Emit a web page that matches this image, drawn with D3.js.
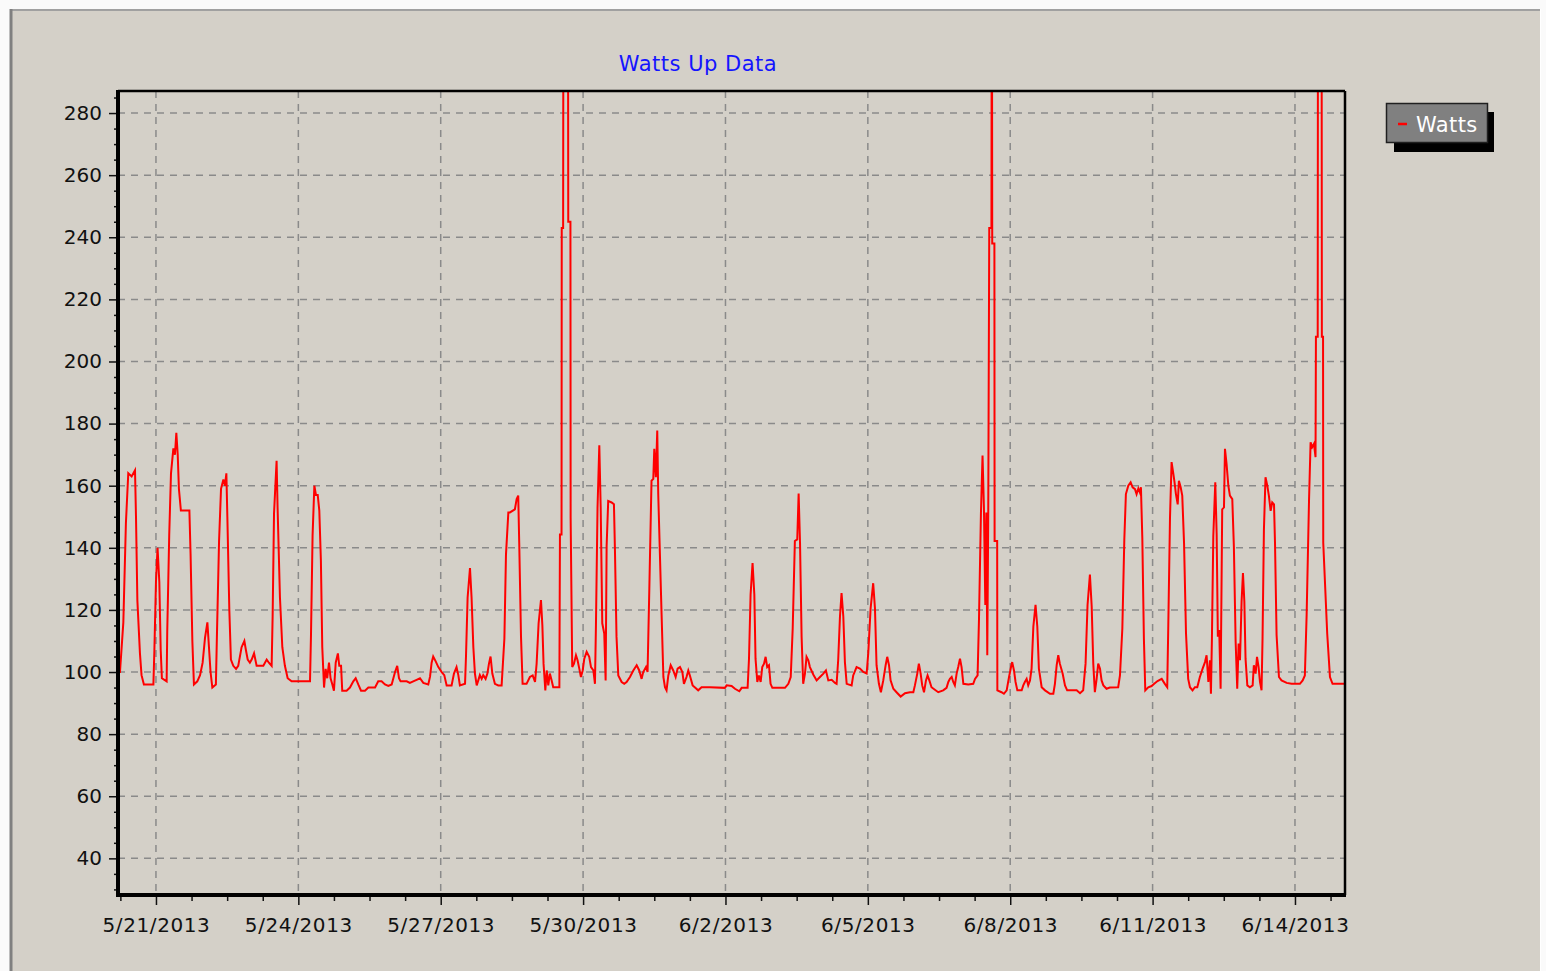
<!DOCTYPE html>
<html>
<head>
<meta charset="utf-8">
<script src="https://cdn.jsdelivr.net/npm/d3@7"></script>
<style>
  html, body { margin: 0; padding: 0; background: #fff; }
  svg { display: block; }
  text { font-family: "DejaVu Sans", sans-serif; }
</style>
</head>
<body>
<svg width="1546" height="971"></svg>
<script>
"use strict";
// hours after 5/21/2013 00:00 (spikes above the frame are clipped)
const hours = [
  -19.2, -18.2, -16.5, -15.2, -14.0, -12.3, -10.6, -10.1, -9.4, -8.1, -7.3, -6.1, -1.3, -0.8, 0.0, 0.8, 1.7, 2.4, 3.0,
  5.4, 5.7, 6.7, 7.6, 8.8, 9.6, 10.3, 11.0, 11.6, 12.6, 16.9, 17.5, 18.4, 19.2, 20.9, 22.3, 23.6, 24.8, 26.0, 26.6,
  27.6, 28.5, 30.3, 30.8, 31.9, 32.9, 34.1, 34.9, 35.6, 36.1, 37.1, 37.9, 39.1, 40.5, 41.6, 43.3, 44.7, 45.5, 46.4,
  47.5, 48.4, 49.6, 50.9, 52.1, 54.3, 56.0, 57.1, 58.5, 59.0, 59.7, 61.0, 61.5, 62.7, 63.9, 65.2, 66.6, 68.6, 71.1,
  77.9, 78.4, 79.2, 80.1, 80.9, 81.8, 82.6, 83.4, 84.1, 85.0, 85.8, 86.6, 87.5, 88.3, 89.2, 90.0, 90.9, 92.0, 92.7,
  93.6, 94.2, 96.4, 98.1, 99.8, 101.0, 102.3, 103.7, 105.7, 107.4, 110.8, 112.4, 114.1, 115.8, 117.5, 119.2, 120.9,
  122.0, 122.9, 123.7, 126.8, 128.4, 130.1, 131.8, 133.5, 135.2, 137.7, 138.6, 139.4, 140.2, 141.4, 142.8, 144.5,
  145.8, 147.0, 149.5, 150.7, 152.0, 152.9, 153.7, 156.3, 156.8, 157.6, 158.8, 159.6, 160.5, 161.3, 162.2, 163.0,
  163.8, 164.7, 165.5, 166.7, 167.6, 168.4, 169.2, 170.1, 171.4, 173.1, 174.8, 176.2, 177.0, 178.2, 179.0, 181.5,
  182.4, 183.2, 183.7, 184.6, 185.4, 187.4, 189.1, 190.5, 191.7, 192.5, 193.5, 194.7, 195.4, 196.0, 196.9, 197.6,
  198.4, 199.2, 200.1, 200.9, 204.0, 204.3, 205.1, 205.2, 205.9, 206.0, 208.4, 208.5, 209.6, 209.7, 210.5, 211.4,
  212.4, 213.2, 214.1, 214.9, 215.8, 216.6, 217.8, 219.1, 220.0, 221.2, 222.0, 222.5, 223.3, 224.2, 224.9, 225.7,
  226.7, 227.4, 227.9, 228.7, 230.4, 231.6, 232.1, 232.9, 233.8, 235.5, 236.8, 238.0, 239.7, 241.4, 243.1, 244.4,
  245.6, 246.4, 247.8, 248.6, 249.5, 250.6, 251.5, 252.0, 252.8, 253.5, 254.0, 255.7, 256.6, 257.4, 258.2, 259.1,
  260.3, 261.6, 262.8, 263.8, 265.0, 266.2, 267.0, 268.3, 269.2, 270.0, 271.4, 272.6, 274.2, 275.9, 280.1, 287.7,
  288.6, 291.1, 292.8, 295.0, 296.2, 299.2, 299.9, 300.7, 301.7, 302.6, 303.2, 304.1, 304.9, 305.8, 306.6, 307.5,
  308.3, 309.1, 310.0, 310.8, 311.7, 318.1, 319.8, 321.0, 322.0, 323.1, 324.3, 325.0, 325.7, 326.5, 327.3, 328.2,
  329.0, 329.9, 330.7, 332.4, 334.1, 335.8, 337.5, 338.8, 340.0, 341.7, 343.4, 344.2, 345.0, 345.9, 346.7, 347.6,
  348.4, 349.3, 351.8, 352.6, 354.3, 356.0, 357.7, 359.4, 360.2, 361.4, 362.7, 363.6, 364.4, 365.6, 366.6, 367.8,
  369.0, 369.8, 370.7, 371.5, 372.9, 374.5, 376.6, 378.8, 381.3, 383.0, 383.8, 385.0, 385.8, 386.7, 387.5, 388.4,
  389.4, 390.2, 391.1, 392.2, 393.9, 395.6, 398.1, 399.8, 400.7, 401.5, 402.4, 403.2, 404.0, 404.9, 405.7, 406.6,
  407.4, 408.3, 410.8, 413.3, 414.2, 415.5, 416.2, 417.2, 418.0, 418.7, 419.4, 419.9, 420.4, 420.9, 421.4, 422.5,
  422.6, 422.8, 422.9, 424.0, 424.1, 425.4, 425.5, 427.6, 428.8, 430.2, 431.4, 432.4, 433.0, 433.9, 434.7, 435.6,
  437.8, 438.6, 439.4, 440.3, 441.1, 442.0, 442.8, 443.7, 444.8, 445.7, 446.5, 447.9, 449.6, 452.1, 453.8, 454.6,
  455.5, 456.3, 457.1, 458.5, 459.7, 460.8, 465.6, 467.3, 468.9, 470.1, 471.1, 472.3, 473.2, 474.0, 474.8, 475.7,
  476.5, 477.4, 478.2, 479.1, 480.7, 482.4, 486.6, 487.5, 488.7, 489.7, 490.5, 491.7, 492.9, 493.9, 495.1, 495.9,
  496.8, 497.6, 498.1, 498.8, 499.6, 500.3, 501.8, 503.5, 504.8, 506.5, 508.6, 510.2, 511.4, 511.9, 512.8, 513.6,
  514.5, 515.1, 515.8, 516.7, 517.3, 518.2, 519.0, 519.9, 520.9, 522.0, 522.9, 524.2, 525.4, 526.6, 527.9, 529.3,
  530.5, 531.3, 532.2, 533.0, 533.5, 534.0, 534.7, 535.7, 536.4, 537.0, 537.7, 538.4, 539.2, 540.1, 540.6, 541.4,
  542.3, 543.1, 544.3, 545.1, 546.0, 546.8, 547.5, 548.2, 549.0, 549.7, 550.4, 551.0, 551.9, 553.2, 554.6, 555.2,
  556.1, 556.8, 557.6, 558.3, 559.1, 559.6, 560.3, 561.1, 562.0, 562.8, 563.7, 564.5, 565.4, 565.9, 566.7, 567.9,
  569.2, 571.8, 574.3, 578.5, 579.9, 581.0, 581.9, 583.1, 583.9, 584.7, 585.6, 586.4, 586.6, 587.5, 587.6, 589.5,
  589.6, 590.2, 590.3, 592.3, 593.7, 595.0, 601.3
];
const watts = [
  100, 100, 116, 148, 164, 163, 165, 150, 123, 106, 99, 96, 96, 107, 129, 140, 129, 107, 98,
  97, 113, 144, 164, 172, 170, 177, 170, 159, 152, 152, 138, 110, 96, 97, 99, 103, 111, 116, 110,
  100, 95, 96, 111, 142, 159, 162, 160, 164, 150, 120, 104, 102, 101, 102, 108, 110, 107, 104,
  103, 104, 106, 102, 102, 102, 104, 103, 102, 118, 151, 168, 153, 124, 108, 102, 98, 97, 97,
  97, 112, 144, 160, 157, 157, 152, 136, 108, 95, 101, 98, 103, 98, 96, 94, 103, 106, 102,
  102, 94, 94, 95, 97, 98, 96, 94, 94, 95, 95, 97, 97, 96, 95.5, 96, 100,
  102, 98, 97, 97, 96.5, 97, 97.5, 98, 96.5, 96, 98.5, 103, 105, 103.5, 101.6, 100,
  99, 95.7, 95.7, 99.5, 101.6, 99, 95.7, 96.2, 105.4, 124, 133.5, 124, 108, 99.5, 95.7, 97.3,
  99, 97.8, 99, 97.8, 99.5, 102.7, 105, 99.5, 96.2, 95.7, 95.7, 110.8, 137.8, 151.4, 151.4, 152.4,
  155.7, 156.8, 141.6, 111.4, 96.2, 96.2, 98.4, 98.9, 96.8, 102.7, 115.7, 123.2, 115.1, 102.7, 94.1, 100.5,
  95.7, 99.5, 97.3, 95.1, 95.1, 144.3, 144.3, 243, 243, 300, 300, 245, 245, 149.7, 101.6, 102.7,
  105.4, 103.8, 101, 98.4, 100.5, 104.3, 106.5, 104.9, 101.6, 100.5, 96.2, 115.1, 153, 173, 153, 115.7,
  112.4, 97.3, 140.5, 155.1, 154.6, 154, 139.5, 111.4, 98.9, 96.8, 96.2, 96.8, 98.4, 100.5, 102.2, 100.5,
  97.8, 100, 101.6, 100, 127, 161.6, 162.2, 171.9, 162.7, 177.8, 157.3, 118.4, 98.4, 95.1, 94.1, 98.9,
  102.2, 100.5, 98.4, 101.1, 101.6, 100, 96.2, 98.4, 100.5, 98.9, 95.7, 95, 94.1, 95.1, 95.1, 94.9,
  95.7, 95.5, 94.6, 93.8, 94.9, 94.9, 104.3, 124.9, 135.1, 124.9, 104.3, 96.8, 98.9, 96.8, 101.6, 102.7,
  104.9, 101.6, 102.2, 96.2, 94.9, 94.9, 96.2, 98.4, 114, 142.2, 142.7, 157.5, 141.6, 111.4, 96.2, 99.5,
  104.9, 103.8, 101.6, 99.2, 97.3, 98.4, 99.5, 100.5, 97.3, 97.5, 96.5, 96.2, 103.8, 117.8, 125.4, 117.8,
  103.2, 96.2, 95.7, 98.9, 101.6, 101.1, 100, 99.5, 106, 120.5, 128.6, 120.5, 102.2, 96.2, 93.5, 97.3,
  102.2, 104.9, 102.2, 97.3, 94.6, 93.5, 92.1, 93.2, 93.5, 93.5, 95.7, 99.5, 102.7, 99.5, 95.7, 93.5,
  97.3, 98.9, 97.3, 95.1, 94.3, 93.5, 94.1, 94.9, 96.8, 97.8, 98.4, 96.8, 95.7, 99.5, 101.6, 104.3,
  101.6, 96.2, 96, 96.2, 97.8, 98.9, 116.8, 151.4, 169.7, 153, 121.6, 151.4, 105.4, 152.4, 243, 243,
  300, 300, 238, 238, 142.2, 142.2, 94.1, 93.5, 93, 94.1, 98.4, 101.6, 103.2, 100.5, 96.8, 94.1,
  94.1, 95.7, 96.8, 97.8, 95.7, 97.3, 101.1, 114.6, 121.6, 114.6, 101.1, 95.1, 94.1, 93, 93, 96.2,
  102.2, 105.4, 102.7, 99.5, 95.7, 94.1, 94.1, 93.2, 94.1, 102.7, 121.6, 131.4, 121.1, 102.7, 93.5, 97.8,
  102.7, 101.1, 97.3, 95.7, 94.6, 95.0, 95.1, 98.9, 114, 142.7, 157.3, 160, 161.1, 159.5, 158.9, 157.3,
  159.1, 157.8, 159.5, 143.2, 110.8, 94.1, 95.1, 95.5, 96.2, 97.1, 97.8, 96.2, 95.1, 113.5, 149.7, 167.6,
  163.8, 161.1, 157.3, 154, 161.6, 159.5, 156.8, 141.6, 112.4, 97.8, 95.1, 94.1, 95.1, 95.1, 98.4, 101.1,
  103.2, 105.4, 96.8, 103.8, 93, 110.8, 143.8, 161.1, 144.3, 111.4, 113.5, 94.6, 152.4, 153, 171.9, 167,
  160, 156.8, 155.7, 140.5, 109.7, 94.6, 109.2, 103.8, 122.7, 131.9, 122.7, 104.3, 95.7, 95.1, 95.7, 102.2,
  99.5, 104.9, 101.6, 96.8, 94.1, 110.8, 145.9, 162.7, 160, 156.8, 151.9, 154.6, 154, 141.6, 111.9, 98.4,
  97.3, 96.5, 96.2, 96.2, 97.3, 98.9, 118.4, 155.1, 174, 172.4, 173.5, 169.2, 208, 208, 300, 300,
  208, 208, 141.6, 112.4, 98.4, 96.2, 96.2
];
const xTickLabels = ["5/21/2013", "5/24/2013", "5/27/2013", "5/30/2013", "6/2/2013",
                     "6/5/2013", "6/8/2013", "6/11/2013", "6/14/2013"];
const yTickValues = [40, 60, 80, 100, 120, 140, 160, 180, 200, 220, 240, 260, 280];
const seriesName = "Watts";
const chartTitle = "Watts Up Data";

let svg = d3.select("svg"),
    width = +svg.attr("width"),
    height = +svg.attr("height");
const plot = { left: 118, top: 91, right: 1345, bottom: 895 };

let start = new Date(2013, 4, 21);
let toDate = h => new Date(start.getTime() + h * 3600e3);
let data = hours.map((h, i) => ({ date: toDate(h), value: watts[i] }));

let x = d3.scaleTime().domain([toDate(-19.2), toDate(601.3)]).range([plot.left, plot.right]);
let y = d3.scaleLinear().domain([28.2, 287.1]).range([plot.bottom, plot.top]);

// window background
svg.append("rect").attr("width", width).attr("height", height).attr("fill", "#fafafa");
svg.append("rect").attr("x", 10).attr("y", 9).attr("width", 1530).attr("height", height - 9).attr("fill", "#d4d0c8");
svg.append("line").attr("x1", 10).attr("x2", 1540).attr("y1", 10).attr("y2", 10).attr("stroke", "#a0a0a0").attr("stroke-width", 2);
svg.append("line").attr("x1", 11).attr("x2", 11).attr("y1", 9).attr("y2", height).attr("stroke", "#808080").attr("stroke-width", 3);
svg.append("line").attr("x1", 1540.5).attr("x2", 1540.5).attr("y1", 9).attr("y2", height).attr("stroke", "#ffffff").attr("stroke-width", 1);

// title
svg.append("text")
    .attr("x", 698).attr("y", 71)
    .attr("text-anchor", "middle")
    .attr("font-size", 21)
    .attr("letter-spacing", 0.5)
    .attr("fill", "#1414ff")
    .text(chartTitle);

let tickDates = xTickLabels.map(d3.timeParse("%m/%d/%Y"));

// grid
let grid = svg.append("g").attr("stroke", "#8a8a8a").attr("stroke-width", 1.5).attr("stroke-dasharray", "7,6");
grid.selectAll(".hg").data(yTickValues).enter().append("line")
    .attr("x1", plot.left).attr("x2", plot.right)
    .attr("y1", d => y(d)).attr("y2", d => y(d));
grid.selectAll(".vg").data(tickDates).enter().append("line")
    .attr("y1", plot.top).attr("y2", plot.bottom)
    .attr("x1", d => x(d)).attr("x2", d => x(d));

// axes
let xMinor = d3.range(-1, 34).filter(k => k % 4 !== 0).map(k => toDate(k * 18))
    .filter(d => d >= x.domain()[0] && d <= x.domain()[1]);
let yMinor = d3.range(30, 290, 5).filter(v => v % 20 !== 0);

let styleAxis = g => {
    g.select(".domain").remove();
    g.selectAll(".tick line").attr("stroke", "#111").attr("stroke-width", 1.5);
    g.selectAll("text").attr("font-size", 20).attr("fill", "#111").attr("font-family", "DejaVu Sans, sans-serif");
};

svg.append("g").attr("transform", "translate(0," + plot.bottom + ")")
    .call(d3.axisBottom(x).tickValues(xMinor).tickSize(6).tickFormat(""))
    .call(styleAxis);
svg.append("g").attr("transform", "translate(0," + plot.bottom + ")")
    .call(d3.axisBottom(x).tickValues(tickDates).tickSize(10).tickPadding(13).tickFormat((d, i) => xTickLabels[i]))
    .call(styleAxis)
    .call(g => g.selectAll("text").attr("letter-spacing", 0.6));
svg.append("g").attr("transform", "translate(" + plot.left + ",0)")
    .call(d3.axisLeft(y).tickValues(yMinor).tickSize(4).tickFormat(""))
    .call(styleAxis);
svg.append("g").attr("transform", "translate(" + plot.left + ",0)")
    .call(d3.axisLeft(y).tickValues(yTickValues).tickSize(9).tickPadding(7))
    .call(styleAxis);

// data line
svg.append("clipPath").attr("id", "plotClip")
    .append("rect")
    .attr("x", plot.left).attr("y", plot.top)
    .attr("width", plot.right - plot.left).attr("height", plot.bottom - plot.top);

let line = d3.line()
    .x(d => x(d.date))
    .y(d => y(d.value));

svg.append("path")
    .datum(data)
    .attr("clip-path", "url(#plotClip)")
    .attr("fill", "none")
    .attr("stroke", "#ff0000")
    .attr("stroke-width", 2)
    .attr("stroke-linejoin", "miter")
    .attr("d", line);

// frame
svg.append("line").attr("x1", plot.left).attr("x2", plot.right).attr("y1", plot.top).attr("y2", plot.top)
    .attr("stroke", "#000").attr("stroke-width", 2.5);
svg.append("line").attr("x1", plot.right).attr("x2", plot.right).attr("y1", plot.top).attr("y2", plot.bottom)
    .attr("stroke", "#000").attr("stroke-width", 2.5);
svg.append("line").attr("x1", plot.left).attr("x2", plot.left).attr("y1", plot.top - 1).attr("y2", plot.bottom + 2)
    .attr("stroke", "#000").attr("stroke-width", 4);
svg.append("line").attr("x1", plot.left).attr("x2", plot.right + 1).attr("y1", plot.bottom).attr("y2", plot.bottom)
    .attr("stroke", "#000").attr("stroke-width", 4);

// legend
let legend = svg.append("g");
legend.append("rect").attr("x", 1394).attr("y", 112).attr("width", 100).attr("height", 40).attr("fill", "#000");
legend.append("rect").attr("x", 1386.5).attr("y", 103.5).attr("width", 101).attr("height", 39)
    .attr("fill", "#808080").attr("stroke", "#202020").attr("stroke-width", 1.5);
legend.append("line").attr("x1", 1398).attr("x2", 1407).attr("y1", 124).attr("y2", 124)
    .attr("stroke", "#ff0000").attr("stroke-width", 2.5);
legend.append("text").attr("x", 1416).attr("y", 131.5)
    .attr("font-size", 21)
    .attr("letter-spacing", 0.4)
    .attr("fill", "#fff")
    .text(seriesName);
</script>
</body>
</html>
